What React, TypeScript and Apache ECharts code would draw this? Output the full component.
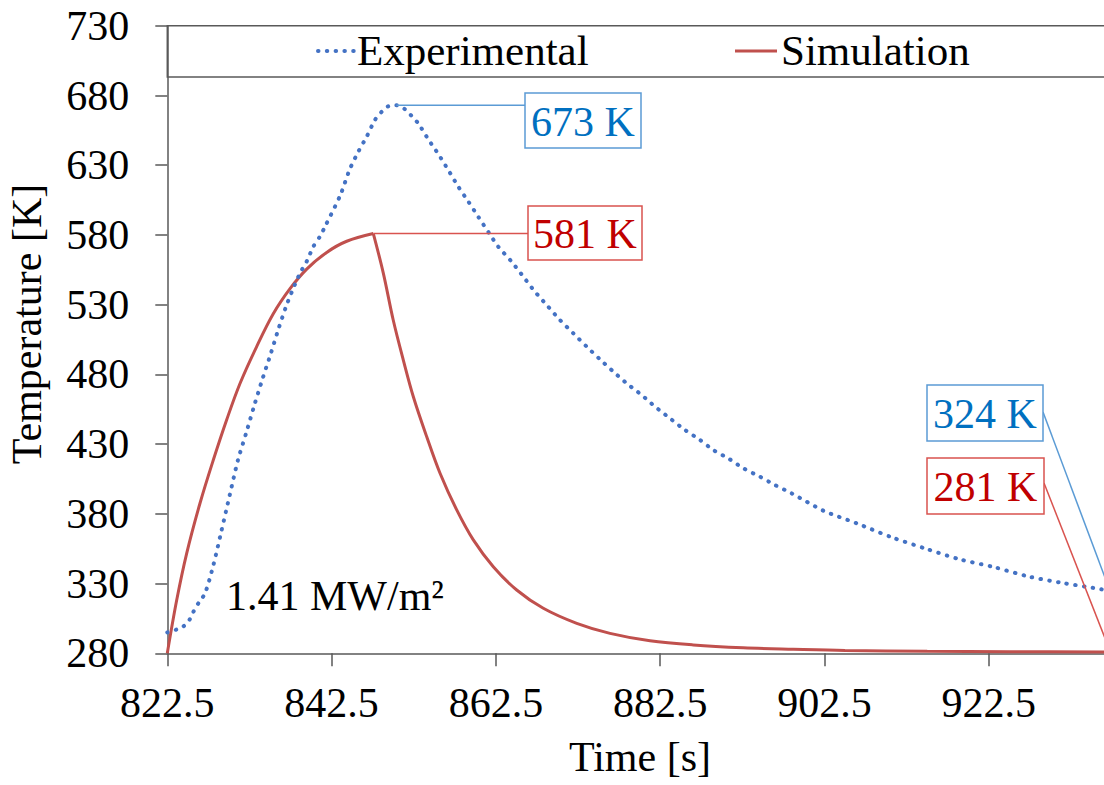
import React, { useEffect, useRef } from "react";
import * as echarts from "echarts";

// ---- data ----
const expTime = [
  822.5, 823.6, 824.5, 825.2, 825.7, 826.4, 827.1, 828.1, 829.1, 830.1, 831.1, 832.1, 833.1, 834.1, 835.1,
  836.0, 836.95, 837.84, 838.65, 839.47, 840.27, 841.09, 841.7, 843.56, 844.7, 845.75, 846.77, 847.78,
  848.6, 849.4, 850.4, 851.44, 852.25, 853.05, 854.27, 855.49, 856.7, 857.92, 859.14, 860.36, 861.7,
  862.79, 864.42, 865.84, 867.26, 868.68, 870.3, 871.92, 873.55, 875.17, 876.79, 878.42, 880.25, 881.87,
  883.69, 885.52, 887.35, 888.96, 890.79, 892.62, 894.65, 896.47, 898.5, 902.35, 906.42, 910.68, 914.94,
  918.82, 923.2, 927.46, 931.72, 936.2, 937.3,
];
const expTemp = [
  295, 297, 299.5, 304, 310, 317, 323, 343, 368, 393.5, 418.6, 438, 458, 477, 495,
  512, 528.6, 541.8, 552.5, 561, 571.6, 579, 586, 608.5, 627, 639.7, 650.5, 662.5,
  668.4, 672.3, 673, 670.1, 665.3, 660, 648.6, 638, 626.6, 614.6, 604, 593, 581,
  571.6, 560.8, 550.1, 539.3, 529.8, 519, 509.5, 499.9, 490.8, 482, 473.6, 465.2, 456.9,
  448.5, 440.1, 433, 425.8, 419.8, 412.7, 406.6, 400.7, 394.7, 382.3, 373.2, 363.2, 354.8,
  347.6, 341.7, 334.9, 330.2, 325.9, 324,
];
const simTime = [
  822.5, 823.64, 824.86, 826.48, 828.1, 829.73, 831.35, 833.38, 835.4, 837.44, 839.47, 841.9, 844.34,
  847.58, 848.8, 850.0, 851.23, 852.45, 854.08, 855.7, 857.73, 859.75, 862.18, 865.03, 868.27, 872.34,
  876.39, 881.26, 886.53, 892.6, 898.7, 905, 915, 925, 937.3,
];
const simTemp = [
  280, 318, 351.7, 387.6, 418.6, 447.5, 473.5, 500, 523.5, 541.5, 555.5, 567.5, 575.5,
  581, 552.5, 519, 490.3, 464, 435.3, 409.1, 382.8, 361.3, 342.1, 325.4, 312.3, 301.5,
  294.3, 289, 286, 284, 282.9, 282, 281.5, 281.2, 281,
];
const xTicks = [822.5, 842.5, 862.5, 882.5, 902.5, 922.5];
const yTicks = [280, 330, 380, 430, 480, 530, 580, 630, 680, 730];
const seriesNames = ["Experimental", "Simulation"];
const fluxLabel = "1.41 MW/m²";
const xTitle = "Time [s]";
const yTitle = "Temperature [K]";

const FONT = "'Liberation Serif', 'Times New Roman', serif";
const AXIS_COLOR = "#595959";
const BLUE = "#4472C4";
const RED = "#C0504D";
const BLUE_LEAD = "#5B9BD5";
const RED_LEAD = "#D9534F";
const BLUE_TEXT = "#0070C0";
const RED_TEXT = "#C00000";
const DOTS = [0.5, 8.3];

function zip(xs: number[], ys: number[]) {
  return xs.map((x, i) => [x, ys[i]]);
}

export default function App() {
  const ref = useRef<HTMLDivElement>(null);
  useEffect(() => {
    if (!ref.current) return;
    const chart = echarts.init(ref.current, undefined, { renderer: "svg" });

    let iExp = 0;
    expTemp.forEach((v, i) => { if (v > expTemp[iExp]) iExp = i; });
    let iSim = 0;
    simTemp.forEach((v, i) => { if (v > simTemp[iSim]) iSim = i; });
    const simPts = zip(simTime, simTemp);

    chart.setOption({
      animation: false,
      backgroundColor: "#ffffff",
      grid: {
        left: 167.3,
        right: -6.4,
        top: 25.8,
        bottom: 131.7,
        containLabel: false,
        outerBoundsMode: "none",
      },
      xAxis: {
        type: "value",
        min: xTicks[0],
        max: expTime[expTime.length - 1],
        splitLine: { show: false },
        axisLine: { show: true, onZero: false, lineStyle: { color: AXIS_COLOR, width: 1.5 } },
        axisTick: {
          show: true,
          inside: false,
          length: 13,
          customValues: xTicks,
          lineStyle: { color: AXIS_COLOR, width: 1.5 },
        },
        axisLabel: {
          customValues: xTicks,
          margin: 29,
          fontFamily: FONT,
          fontSize: 42,
          color: "#000",
          formatter: (v: number) => v.toFixed(1),
        },
      },
      yAxis: {
        type: "value",
        min: yTicks[0],
        max: yTicks[yTicks.length - 1],
        splitLine: { show: false },
        axisLine: { show: true, onZero: false, lineStyle: { color: AXIS_COLOR, width: 1.5 } },
        axisTick: {
          show: true,
          inside: false,
          length: 12,
          customValues: yTicks,
          lineStyle: { color: AXIS_COLOR, width: 1.5 },
        },
        axisLabel: {
          customValues: yTicks,
          margin: 38,
          fontFamily: FONT,
          fontSize: 42,
          color: "#000",
        },
      },
      series: [
        {
          name: seriesNames[0],
          type: "line",
          data: zip(expTime, expTemp),
          symbol: "none",
          smooth: 0.25,
          z: 3,
          lineStyle: { color: BLUE, width: 4, type: DOTS, cap: "round" },
          itemStyle: { color: BLUE },
        },
        {
          name: seriesNames[1],
          type: "line",
          data: simPts.slice(0, iSim + 1),
          symbol: "none",
          smooth: 0.35,
          z: 2,
          lineStyle: { color: RED, width: 3 },
          itemStyle: { color: RED },
        },
        {
          name: seriesNames[1],
          type: "line",
          data: simPts.slice(iSim),
          symbol: "none",
          smooth: 0.35,
          z: 2,
          lineStyle: { color: RED, width: 3 },
          itemStyle: { color: RED },
        },
      ],
    });

    // annotations, anchored to data points via the chart's scales
    const px = (t: number, v: number) => chart.convertToPixel({ gridIndex: 0 }, [t, v]) as number[];
    const pExpPeak = px(expTime[iExp], expTemp[iExp]);
    const pSimPeak = px(simTime[iSim], simTemp[iSim]);
    const pExpEnd = px(expTime[expTime.length - 1], expTemp[expTemp.length - 1]);
    const pSimEnd = px(simTime[simTime.length - 1], simTemp[simTemp.length - 1]);

    const box = (x: number, y: number, w: number, h: number, text: string, stroke: string, fill: string) => [
      {
        type: "rect",
        shape: { x, y, width: w, height: h },
        style: { fill: "#fff", stroke, lineWidth: 1.5 },
        z: 10,
      },
      {
        type: "text",
        x: x + w / 2,
        y: y + h / 2 + 1,
        style: { text, fill, font: `42px ${FONT}`, align: "center", verticalAlign: "middle" },
        z: 11,
      },
    ];
    const lead = (x1: number, y1: number, x2: number, y2: number, stroke: string) => ({
      type: "line",
      shape: { x1, y1, x2, y2 },
      style: { stroke, lineWidth: 1.5 },
      z: 9,
    });
    const label = (x: number, y: number, text: string, align: string, rotation = 0, size = 42) => ({
      type: "text",
      x,
      y,
      rotation,
      style: { text, fill: "#000", font: `${size}px ${FONT}`, align, verticalAlign: "middle" },
      z: 11,
    });

    const topY = 25.8;
    const legendY = 51;
    chart.setOption({
      graphic: [
        {
          type: "rect",
          shape: { x: 167.3, y: topY, width: 1100, height: 51.2 },
          style: { fill: "none", stroke: AXIS_COLOR, lineWidth: 1.5 },
          z: 8,
        },
        // legend
        {
          type: "line",
          shape: { x1: 318, y1: legendY, x2: 354, y2: legendY },
          style: { stroke: BLUE, lineWidth: 4, lineDash: DOTS, lineCap: "round" },
          z: 11,
        },
        label(357, legendY - 1, seriesNames[0], "left", 0, 43),
        {
          type: "line",
          shape: { x1: 735, y1: legendY, x2: 777, y2: legendY },
          style: { stroke: RED, lineWidth: 3 },
          z: 11,
        },
        label(781, legendY - 1, seriesNames[1], "left", 0, 43),
        // callouts
        lead(pExpPeak[0], pExpPeak[1], 525, pExpPeak[1], BLUE_LEAD),
        ...box(525, 93, 116, 55, `${Math.round(expTemp[iExp])} K`, BLUE_LEAD, BLUE_TEXT),
        lead(pSimPeak[0], pSimPeak[1], 528, pSimPeak[1], RED_LEAD),
        ...box(528, 206, 114, 54, `${Math.round(simTemp[iSim])} K`, RED_LEAD, RED_TEXT),
        lead(1043, 412, pExpEnd[0], pExpEnd[1], BLUE_LEAD),
        ...box(927, 385, 116, 56, `${Math.round(expTemp[expTemp.length - 1])} K`, BLUE_LEAD, BLUE_TEXT),
        lead(1044, 483, pSimEnd[0], pSimEnd[1], RED_LEAD),
        ...box(927, 458, 117, 56, `${Math.round(simTemp[simTemp.length - 1])} K`, RED_LEAD, RED_TEXT),
        // texts
        label(226, 596, fluxLabel, "left"),
        label(640, 757, xTitle, "center"),
        label(27, 324, yTitle, "center", Math.PI / 2),
      ],
    });

    return () => chart.dispose();
  }, []);
  return (
    <div
      ref={ref}
      style={{ position: "absolute", left: 0, top: 0, width: 1104, height: 785, background: "#fff" }}
    />
  );
}
